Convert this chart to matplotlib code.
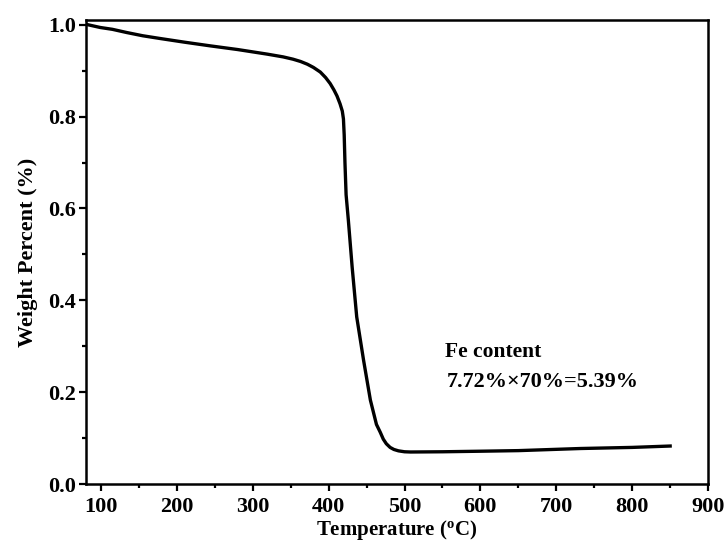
import numpy as np
import matplotlib
matplotlib.use("Agg")
import matplotlib.pyplot as plt
from matplotlib.ticker import MultipleLocator

# TGA curve
temperature = [80, 99, 115, 134, 155, 178, 210, 244, 280, 319, 340, 353, 363, 372, 380, 389, 396,
               402, 407, 411, 415, 418, 419.5, 420.5, 421.5, 423, 426, 431, 437, 446, 455,
               463, 468, 472, 476, 481, 486, 492, 500, 508, 550, 600, 650, 732, 800, 850]
weight = [1.001, 0.994, 0.990, 0.983, 0.976, 0.970, 0.962, 0.954, 0.946, 0.936, 0.930, 0.925,
          0.920, 0.914, 0.907, 0.897, 0.885, 0.872, 0.858, 0.845, 0.828, 0.812, 0.795, 0.760,
          0.700, 0.630, 0.574, 0.472, 0.364, 0.270, 0.183, 0.130, 0.113, 0.098, 0.088, 0.080,
          0.0755, 0.0725, 0.0705, 0.070, 0.0705, 0.0717, 0.073, 0.0776, 0.080, 0.083]

x_ticks = [100, 200, 300, 400, 500, 600, 700, 800, 900]
y_ticks = [0.0, 0.2, 0.4, 0.6, 0.8, 1.0]

plt.rcParams['font.family'] = 'Liberation Serif'
plt.rcParams['font.weight'] = 'bold'
plt.rcParams['mathtext.fontset'] = 'custom'
plt.rcParams['mathtext.rm'] = 'Liberation Serif:bold'
plt.rcParams['mathtext.it'] = 'Liberation Serif:bold'
plt.rcParams['mathtext.bf'] = 'Liberation Serif:bold'

fig = plt.figure(figsize=(7.27, 5.44), dpi=100)
ax = fig.add_axes([0.118, 0.110, 0.856, 0.853])

ax.plot(temperature, weight, color="black", lw=2.4)

ax.set_xlim(80, 900)
ax.set_ylim(0, 1.01)
ax.set_xticks(x_ticks)
ax.set_yticks(y_ticks)
ax.set_yticklabels([f"{v:.1f}" for v in y_ticks])
ax.xaxis.set_minor_locator(MultipleLocator(50))
ax.yaxis.set_minor_locator(MultipleLocator(0.1))

ax.tick_params(which="major", direction="out", length=5, width=1.6, labelsize=16, pad=2)
ax.tick_params(axis="x", which="major", pad=4)
ax.tick_params(which="minor", direction="out", length=3, width=1.6)
for s in ax.spines.values():
    s.set_linewidth(1.8)

ax.set_xlabel("Temperature ($^{o}$C)", fontsize=15, fontweight="bold", labelpad=1)
ax.set_ylabel("Weight Percent (%)", fontsize=16, fontweight="bold", labelpad=7)

ax.text(553, 0.287, "Fe content", fontsize=15.5, fontweight="bold", va="center")
ax.text(556, 0.222, "7.72%\u00d770%=5.39%", fontsize=16, fontweight="bold", va="center")

plt.savefig("out.png", dpi=100)
